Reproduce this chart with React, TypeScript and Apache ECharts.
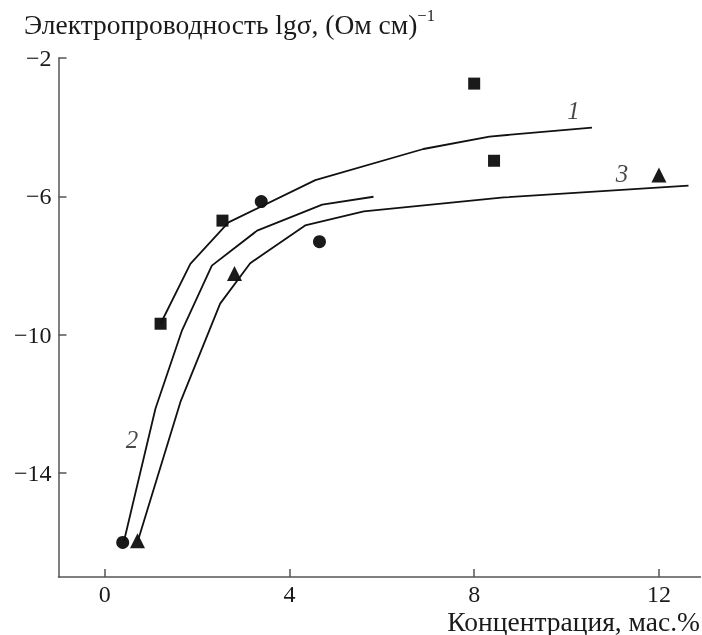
import React, { useEffect, useRef } from "react";
import * as echarts from "echarts";

const xTicks = [0, 4, 8, 12];
const yTicks = [-2, -6, -10, -14];

const curve1: [number, number][] = [
  [1.21, -9.68], [1.855, -7.95], [2.68, -6.75], [4.56, -5.53], [6.9, -4.63], [8.33, -4.27], [10.55, -4.01],
];
const curve2: [number, number][] = [
  [0.42, -15.95], [1.1, -12.13], [1.675, -9.87], [2.32, -8.0], [3.3, -6.99], [4.71, -6.24], [5.82, -6.01],
];
const curve3: [number, number][] = [
  [0.72, -15.95], [1.64, -11.94], [2.5, -9.1], [3.15, -7.93], [4.34, -6.84], [5.61, -6.43], [8.64, -6.03], [12.64, -5.69],
];

const squares: [number, number][] = [[1.21, -9.68], [2.55, -6.7], [8.0, -2.74], [8.43, -4.97]];
const circles: [number, number][] = [[0.39, -16.0], [3.39, -6.15], [4.65, -7.31]];
const triangles: [number, number][] = [[0.71, -15.95], [2.81, -8.23], [12.0, -5.38]];

const curveLabels: [number, number, string][] = [
  [10.15, -3.53, "1"],
  [0.59, -13.04, "2"],
  [11.2, -5.35, "3"],
];

const FONT = "Liberation Serif";

export default function App() {
  const ref = useRef<HTMLDivElement>(null);
  useEffect(() => {
    if (!ref.current) return;
    const chart = echarts.init(ref.current, undefined, { renderer: "svg" });
    const lineStyle = { color: "#111", width: 1.8 };
    const axisLine = { show: true, lineStyle: { color: "#555", width: 1.5 } };
    const mark = { color: "#1a1a1a", opacity: 1 };
    chart.setOption({
      animation: false,
      textStyle: { fontFamily: FONT },
      grid: { left: 58.5, right: 1.5, top: 58, bottom: 58, containLabel: false },
      xAxis: {
        type: "value",
        min: -1,
        max: 12.9,
        axisLine: { ...axisLine, onZero: false },
        axisTick: { show: true, inside: true, length: 8, lineStyle: { color: "#555", width: 1.5 }, customValues: xTicks },
        axisLabel: { customValues: xTicks, fontFamily: FONT, fontSize: 24, color: "#1a1a1a", margin: 5 },
        splitLine: { show: false },
      },
      yAxis: {
        type: "value",
        min: -17,
        max: -2,
        axisLine: { ...axisLine, onZero: false },
        axisTick: { show: true, inside: true, length: 8, lineStyle: { color: "#555", width: 1.5 }, customValues: yTicks },
        axisLabel: {
          customValues: yTicks,
          fontFamily: FONT,
          fontSize: 24,
          color: "#1a1a1a",
          margin: 7,
          formatter: (v: number) => String(v).replace("-", "\u2212"),
        },
        splitLine: { show: false },
      },
      graphic: [
        {
          type: "text",
          left: 24,
          top: 7,
          style: {
            text: "{m|Электропроводность lgσ, (Ом см)}{s|\u22121}",
            fontFamily: FONT,
            rich: {
              m: { fontFamily: FONT, fontSize: 27.5, fill: "#1a1a1a", lineHeight: 31, verticalAlign: "bottom" },
              s: { fontFamily: FONT, fontSize: 16.5, fill: "#1a1a1a", lineHeight: 31, verticalAlign: "top" },
            },
          },
        },
        {
          type: "text",
          right: 2,
          top: 607,
          style: {
            text: "Концентрация, мас.%",
            fontFamily: FONT,
            fontSize: 27.5,
            fill: "#1a1a1a",
          },
        },
      ],
      series: [
        { type: "line", data: curve1, showSymbol: false, lineStyle, silent: true },
        { type: "line", data: curve2, showSymbol: false, lineStyle, silent: true },
        { type: "line", data: curve3, showSymbol: false, lineStyle, silent: true },
        { type: "scatter", data: squares, symbol: "rect", symbolSize: 12, itemStyle: mark },
        { type: "scatter", data: circles, symbol: "circle", symbolSize: 13, itemStyle: mark },
        { type: "scatter", data: triangles, symbol: "triangle", symbolSize: 15, itemStyle: mark },
        {
          type: "scatter",
          data: curveLabels.map((d) => ({ value: [d[0], d[1]], name: d[2] })),
          symbolSize: 0,
          label: {
            show: true,
            position: "inside",
            formatter: (p: any) => p.name,
            fontFamily: FONT,
            fontStyle: "italic",
            fontSize: 25,
            color: "#1a1a1a",
          },
        },
      ],
    });
    return () => chart.dispose();
  }, []);
  return (
    <div style={{ fontFamily: FONT }}>
      <span style={{ fontFamily: FONT, fontSize: 1, color: "#fff" }}>{"\u00a0"}</span>
      <div ref={ref} style={{ position: "fixed", left: 0, top: 0, width: 702, height: 635 }} />
    </div>
  );
}
